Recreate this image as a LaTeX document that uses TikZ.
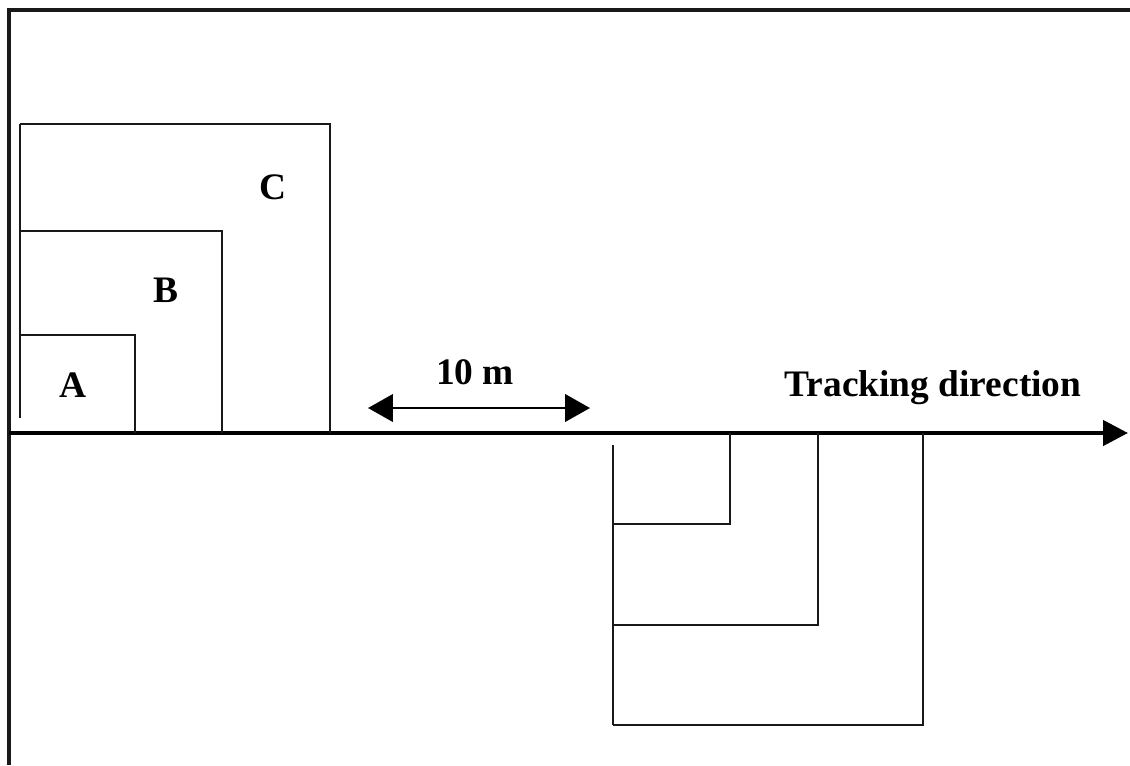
\documentclass[tikz,border=0pt]{standalone}
\usepackage{fontspec}
\setmainfont{Liberation Serif}
\usetikzlibrary{arrows.meta}

\begin{document}
\begin{tikzpicture}[
  x=0.025cm, y=-0.025cm,
  font=\fontsize{26.6}{30}\selectfont\bfseries,
  cadre/.style={
    line width=2.2pt,
    draw=black!90
  },
  carre/.style={
    line width=2pt,
    draw=black!90
  },
  axe/.style={
    -{Triangle[length=0.62cm, width=0.62cm]},
    line width=3.2pt
  },
  mesure/.style={
    {Triangle[length=0.62cm, width=0.68cm]}-{Triangle[length=0.62cm, width=0.68cm]},
    line width=2pt
  },
  etiquette/.style={
    inner sep=0pt,
    text=black
  }
]
  \useasboundingbox (0,0) rectangle (1130,765);

  % cadre
  \draw[cadre] (9,765) -- (9,10) -- (1130,10);

  % axe de deplacement
  \coordinate (debut) at (9,433);
  \coordinate (fin) at (1128,433);
  \draw[axe] (debut) -- (fin);

  % carres au-dessus de l'axe
  \draw[carre] (20,418) -- (20,124);
  \draw[carre] (20,124) -- (330,124) -- (330,433);
  \draw[carre] (20,231) -- (222,231) -- (222,433);
  \draw[carre] (20,335) -- (135,335) -- (135,433);

  % carres au-dessous de l'axe
  \draw[carre] (613,445) -- (613,725);
  \draw[carre] (613,524) -- (730,524) -- (730,433);
  \draw[carre] (613,625) -- (818,625) -- (818,433);
  \draw[carre] (613,725) -- (923,725) -- (923,433);

  \node[etiquette] (lA) at (73,385) {A};
  \node[etiquette] (lB) at (166,290) {B};
  \node[etiquette] (lC) at (273,187) {C};

  % echelle
  \coordinate (g) at (368,408);
  \coordinate (d) at (590,408);
  \draw[mesure] (g) -- (d);
  \node[etiquette] (dix) at (475,372) {10 m};

  \node[etiquette] (sens) at (933,388) {Tracking direction};
\end{tikzpicture}
\end{document}
